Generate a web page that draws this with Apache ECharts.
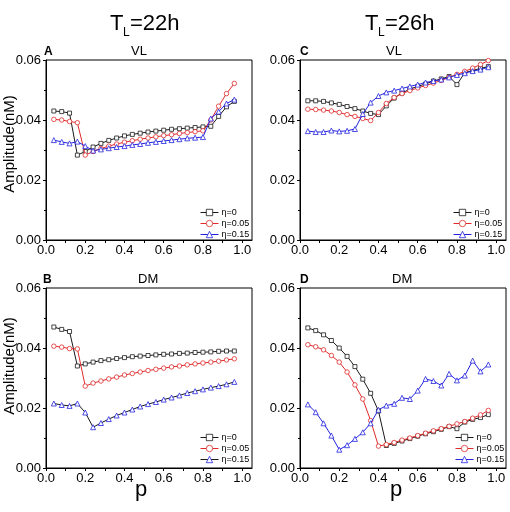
<!DOCTYPE html>
<html><head><meta charset="utf-8">
<script src="https://cdn.jsdelivr.net/npm/echarts@6/dist/echarts.min.js"></script>
<style>html,body{margin:0;padding:0;background:#fff}#c{width:510px;height:512px}</style>
</head><body><div id="c"></div>
<script>
// ---- data ----
const p = [0.04,0.08,0.12,0.16,0.20,0.24,0.28,0.32,0.36,0.40,0.44,0.48,0.52,0.56,0.60,0.64,0.68,0.72,0.76,0.80,0.84,0.88,0.92,0.96];
const etaLabels = ['η=0','η=0.05','η=0.15'];
const xLabelValues = [0.0,0.2,0.4,0.6,0.8,1.0];
const xTickValues = [0.0,0.1,0.2,0.3,0.4,0.5,0.6,0.7,0.8,0.9,1.0];
const panelLetters = ['A','C','B','D'];
const panelTitles = ['VL','VL','DM','DM'];
const headTitles = ['22h','26h'];

// Panel A: T_L=22h, VL
const A_eta0  = [0.0430,0.0428,0.0423,0.0283,0.0295,0.0310,0.0322,0.0332,0.0340,0.0347,0.0352,0.0356,0.0360,0.0363,0.0366,0.0369,0.0371,0.0373,0.0375,0.0377,0.0379,0.0412,0.0444,0.0462];
const A_eta05 = [0.0402,0.0400,0.0395,0.0391,0.0283,0.0295,0.0305,0.0313,0.0320,0.0326,0.0331,0.0336,0.0340,0.0344,0.0348,0.0351,0.0355,0.0358,0.0361,0.0364,0.0400,0.0446,0.0488,0.0522];
const A_eta15 = [0.0333,0.0327,0.0322,0.0328,0.0313,0.0298,0.0302,0.0306,0.0310,0.0313,0.0317,0.0320,0.0324,0.0327,0.0330,0.0333,0.0336,0.0339,0.0341,0.0343,0.0405,0.0428,0.0455,0.0468];
// Panel C: T_L=26h, VL
const C_eta0  = [0.0464,0.0464,0.0462,0.0457,0.0452,0.0445,0.0438,0.0430,0.0422,0.0418,0.0447,0.0473,0.0490,0.0503,0.0512,0.0520,0.0530,0.0537,0.0545,0.0518,0.0558,0.0565,0.0572,0.0578];
const C_eta05 = [0.0436,0.0435,0.0433,0.0430,0.0425,0.0418,0.0412,0.0405,0.0398,0.0425,0.0455,0.0475,0.0488,0.0498,0.0507,0.0515,0.0523,0.0532,0.0542,0.0552,0.0562,0.0573,0.0585,0.0598];
const C_eta15 = [0.0363,0.0360,0.0360,0.0365,0.0362,0.0364,0.0370,0.0420,0.0458,0.0480,0.0492,0.0498,0.0505,0.0512,0.0518,0.0525,0.0530,0.0535,0.0542,0.0550,0.0556,0.0563,0.0568,0.0576];
// Panel B: T_L=22h, DM
const B_eta0  = [0.0470,0.0462,0.0455,0.0340,0.0347,0.0353,0.0358,0.0361,0.0365,0.0368,0.0371,0.0373,0.0375,0.0377,0.0379,0.0380,0.0382,0.0383,0.0385,0.0386,0.0387,0.0389,0.0390,0.0390];
const B_eta05 = [0.0406,0.0403,0.0398,0.0397,0.0273,0.0283,0.0290,0.0297,0.0303,0.0310,0.0315,0.0320,0.0325,0.0329,0.0333,0.0337,0.0340,0.0344,0.0347,0.0350,0.0353,0.0356,0.0360,0.0364];
const B_eta15 = [0.0215,0.0210,0.0207,0.0215,0.0185,0.0136,0.0150,0.0163,0.0175,0.0185,0.0195,0.0205,0.0213,0.0220,0.0228,0.0235,0.0242,0.0250,0.0256,0.0262,0.0268,0.0273,0.0279,0.0287];
// Panel D: T_L=26h, DM
const D_eta0  = [0.0467,0.0458,0.0444,0.0425,0.0400,0.0372,0.0338,0.0296,0.0249,0.0190,0.0075,0.0082,0.0090,0.0098,0.0106,0.0114,0.0121,0.0129,0.0138,0.0131,0.0153,0.0162,0.0168,0.0178];
const D_eta05 = [0.0411,0.0404,0.0394,0.0375,0.0353,0.0320,0.0277,0.0230,0.0158,0.0073,0.0078,0.0085,0.0093,0.0100,0.0108,0.0116,0.0124,0.0131,0.0139,0.0147,0.0155,0.0166,0.0177,0.0192];
const D_eta15 = [0.0212,0.0186,0.0149,0.0108,0.0061,0.0076,0.0097,0.0119,0.0149,0.0194,0.0208,0.0214,0.0234,0.0230,0.0258,0.0297,0.0290,0.0275,0.0314,0.0292,0.0308,0.0358,0.0322,0.0345];

// ---- layout / style ----
const FONT = 'Liberation Sans, Arial, sans-serif';
const BLACK = '#1a1a1a', RED = '#e02a2a', BLUE = '#2424e0';
const grids = [
  {left:46, top:60, width:206, height:180},
  {left:300, top:60, width:206, height:180},
  {left:46, top:288, width:206, height:180},
  {left:300, top:288, width:206, height:180}
];
const panels = [
  [A_eta0, A_eta05, A_eta15],
  [C_eta0, C_eta05, C_eta15],
  [B_eta0, B_eta05, B_eta15],
  [D_eta0, D_eta05, D_eta15]
];
const symbols = ['rect','circle','triangle'];
const symSizes = [4,4.5,5];
const markerColors = [BLACK, RED, BLUE];
// line colours per panel (panel B's η=0.15 is drawn with a black line)
const lineColors = [
  [BLACK, RED, BLUE],
  [BLACK, RED, BLUE],
  [BLACK, RED, BLACK],
  [BLACK, RED, BLUE]
];
const legendPos = [
  {left:200, top:208},
  {left:453, top:208},
  {left:200, top:433},
  {left:455, top:433}
];

const xAxis = [], yAxis = [], series = [], legend = [];
const nameMap = {};
grids.forEach((g, gi) => {
  xAxis.push({
    type:'value', gridIndex:gi, min:0, max:1.05,
    axisLine:{show:true, onZero:false, lineStyle:{color:'#000', width:1}},
    axisTick:{show:true, length:3, inside:false, customValues:xTickValues, lineStyle:{color:'#000'}},
    axisLabel:{customValues:xLabelValues, formatter:v => v.toFixed(1), fontSize:13, color:'#000', fontFamily:FONT, margin:4},
    splitLine:{show:false}
  });
  yAxis.push({
    type:'value', gridIndex:gi, min:0, max:0.06, interval:0.02,
    axisLine:{show:true, onZero:false, lineStyle:{color:'#000', width:1}},
    axisTick:{show:true, length:3, lineStyle:{color:'#000'}},
    minorTick:{show:true, splitNumber:2, length:2, lineStyle:{color:'#000'}},
    axisLabel:{formatter:v => v.toFixed(2), fontSize:13, color:'#000', fontFamily:FONT, margin:5},
    splitLine:{show:false}
  });
  const names = [];
  panels[gi].forEach((vals, si) => {
    const nm = 'P' + gi + 'S' + si;
    nameMap[nm] = etaLabels[si];
    names.push(nm);
    series.push({
      name:nm, type:'line', xAxisIndex:gi, yAxisIndex:gi,
      data:p.map((x, i) => [x, vals[i]]),
      symbol:symbols[si], symbolSize:symSizes[si], showSymbol:true,
      lineStyle:{color:lineColors[gi][si], width:1},
      itemStyle:{color:'#fff', borderColor:markerColors[si], borderWidth:0.8},
      emphasis:{disabled:true},
      animation:false, z:2+si
    });
  });
  legend.push({
    orient:'vertical', left:legendPos[gi].left, top:legendPos[gi].top,
    padding:0, itemGap:2, itemWidth:18, itemHeight:8,
    data:names, selectedMode:false,
    formatter:n => nameMap[n],
    itemStyle:{borderWidth:0.8},
    lineStyle:{width:1},
    textStyle:{fontSize:9, color:'#000', fontFamily:FONT, padding:[0,0,0,-2]}
  });
});

const graphic = [];
// big headers T_L=..
[[110,'22h'],[365,'26h']].forEach((h, i) => {
  graphic.push({type:'text', left:h[0], top:13, style:{text:'T', font:'22px ' + FONT, fill:'#000'}});
  graphic.push({type:'text', left:h[0]+13, top:27, style:{text:'L', font:'12px ' + FONT, fill:'#000'}});
  graphic.push({type:'text', left:h[0]+20, top:13, style:{text:'=' + headTitles[i], font:'22px ' + FONT, fill:'#000'}});
});
// panel titles & letters
const titlePos = [[131,45],[386,45],[138,273],[392,273]];
const letterPos = [[44,46],[300,46],[43,274],[300,274]];
grids.forEach((g, gi) => {
  graphic.push({type:'text', left:titlePos[gi][0], top:titlePos[gi][1], style:{text:panelTitles[gi], font:'13px ' + FONT, fill:'#000'}});
  graphic.push({type:'text', left:letterPos[gi][0], top:letterPos[gi][1], style:{text:panelLetters[gi], font:'bold 12px ' + FONT, fill:'#000'}});
});
// y axis names
[144, 366].forEach(cy => {
  graphic.push({type:'text', x:10, y:cy, rotation:Math.PI/2,
    style:{text:'Amplitude(nM)', font:'15px ' + FONT, fill:'#000', align:'center', verticalAlign:'middle'}});
});
// x axis names
[141, 396].forEach(cx => {
  graphic.push({type:'text', x:cx, y:490, style:{text:'p', font:'22px ' + FONT, fill:'#000', align:'center', verticalAlign:'middle'}});
});

const chart = echarts.init(document.getElementById('c'), null, {renderer:'canvas'});
chart.setOption({
  animation:false,
  backgroundColor:'#fff',
  grid:grids.map(g => Object.assign({show:true, borderColor:'#000', borderWidth:1, backgroundColor:'transparent'}, g)),
  xAxis, yAxis, series, legend, graphic
});
</script>
</body></html>
